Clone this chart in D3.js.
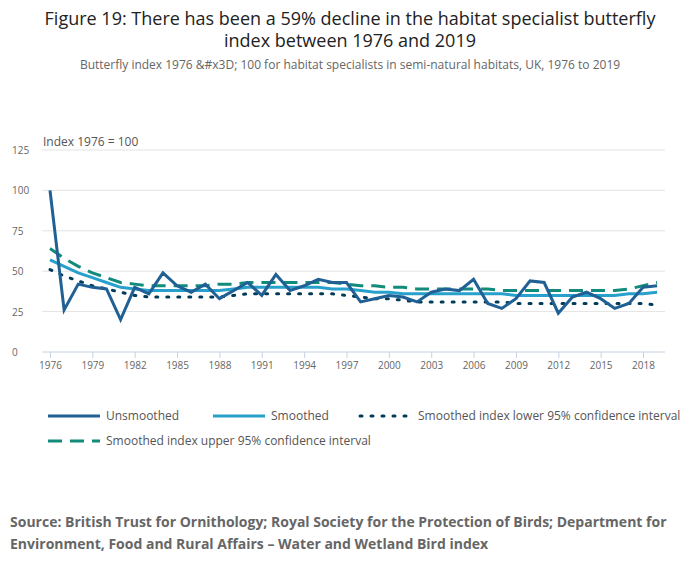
<!DOCTYPE html>
<html><head><meta charset="utf-8">
<script src="https://cdn.jsdelivr.net/npm/d3@7"></script>
<style>body{margin:0;background:#fff;font-family:"Open Sans",sans-serif;}</style>
</head><body><div id="chart"></div>
<script>
const years = d3.range(1976, 2020);
const unsmoothed = [100,26,42,40,39,20,40,36,49,41,37,42,33,38,43,35,48,38,41,45,43,43,31,33,35,34,31,37,39,38,45,30,27,33,44,43,24,34,37,33,27,30,40,41];
const smoothed = [57,53,49,46,43,40,39,38,38,38,38,38,38,39,40,40,40,40,40,40,39,39,38,37,37,36,36,36,36,36,36,36,36,35,35,35,35,35,35,35,35,36,36,37];
const lower = [51,47,44,41,39,37,35,34,34,34,34,34,34,35,36,36,36,36,36,36,36,35,34,33,33,32,31,31,31,31,31,31,31,30,30,30,30,30,30,30,30,30,30,29];
const upper = [64,58,53,49,46,43,42,41,41,41,41,41,42,42,43,43,43,43,43,43,43,42,41,41,40,40,39,39,39,39,39,39,38,38,38,38,38,38,38,38,38,39,41,43];
const yTicks = [0,25,50,75,100,125];
const xTicks = d3.range(1976, 2019, 3);

const W = 700, H = 574;
const svg = d3.select("#chart").append("svg").attr("width", W).attr("height", H);

svg.append("text").attr("x", 350).attr("y", 25).attr("text-anchor", "middle")
  .attr("font-size", 18).attr("fill", "#222").text("Figure 19: There has been a 59% decline in the habitat specialist butterfly");
svg.append("text").attr("x", 350).attr("y", 47).attr("text-anchor", "middle")
  .attr("font-size", 18).attr("fill", "#222").text("index between 1976 and 2019");
svg.append("text").attr("x", 350).attr("y", 69).attr("text-anchor", "middle")
  .attr("font-size", 12).attr("fill", "#666").text("Butterfly index 1976 &#x3D; 100 for habitat specialists in semi-natural habitats, UK, 1976 to 2019");

const x = d3.scaleLinear().domain([1976, 2018]).range([50, 643]);
const y = d3.scaleLinear().domain([0, 125]).range([352, 150]);

svg.append("text").attr("x", 43).attr("y", 146).attr("font-size", 12).attr("fill", "#555").text("Index 1976 = 100");

const grid = svg.append("g");
yTicks.forEach(t => {
  if (t > 0) grid.append("line").attr("x1", 42).attr("x2", 665).attr("y1", y(t)).attr("y2", y(t)).attr("stroke", "#e3e3e3");
  grid.append("text").attr("x", 12).attr("y", y(t) + 4).attr("font-size", 10).attr("fill", "#666").text(t);
});
svg.append("line").attr("x1", 42).attr("x2", 665).attr("y1", y(0)).attr("y2", y(0)).attr("stroke", "#c6d2e6");

const xAxis = svg.append("g").attr("transform", `translate(0,${y(0)})`)
  .call(d3.axisBottom(x).tickValues(xTicks).tickFormat(d3.format("d")).tickSize(6).tickPadding(4));
xAxis.select(".domain").remove();
xAxis.selectAll("line").attr("stroke", "#c6d2e6");
xAxis.selectAll("text").attr("font-size", 10).attr("fill", "#666").attr("font-family", "Open Sans");

const series = [
  {name: "Unsmoothed", vals: unsmoothed, color: "#206095", width: 3, dash: null},
  {name: "Smoothed", vals: smoothed, color: "#27a0cc", width: 3, dash: null},
  {name: "Smoothed index lower 95% confidence interval", vals: lower, color: "#003c57", width: 3, dash: "2,9", cap: "round"},
  {name: "Smoothed index upper 95% confidence interval", vals: upper, color: "#118c7b", width: 3, dash: "14,8"}
];
const line = d3.line().x((d, i) => x(years[i])).y(d => y(d));
[series[3], series[2], series[1], series[0]].forEach(s => {
  svg.append("path").datum(s.vals).attr("d", line).attr("fill", "none")
    .attr("stroke", s.color).attr("stroke-width", s.width)
    .attr("stroke-dasharray", s.dash).attr("stroke-linecap", s.cap || "butt");
});

const legendPos = [[48, 416], [213, 416], [360, 416], [48, 441]];
series.forEach((s, i) => {
  const [lx, ly] = legendPos[i];
  svg.append("line").attr("x1", lx).attr("x2", lx + 52).attr("y1", ly).attr("y2", ly)
    .attr("stroke", s.color).attr("stroke-width", 3).attr("stroke-dasharray", s.dash)
    .attr("stroke-linecap", s.cap || "butt");
  svg.append("text").attr("x", lx + 58).attr("y", ly + 4).attr("font-size", 12).attr("fill", "#555").text(s.name);
});

svg.append("text").attr("x", 10).attr("y", 527).attr("font-size", 14).attr("font-weight", "bold").attr("fill", "#666")
  .text("Source: British Trust for Ornithology; Royal Society for the Protection of Birds; Department for");
svg.append("text").attr("x", 10).attr("y", 549).attr("font-size", 14).attr("font-weight", "bold").attr("fill", "#666")
  .text("Environment, Food and Rural Affairs – Water and Wetland Bird index");
</script></body></html>
